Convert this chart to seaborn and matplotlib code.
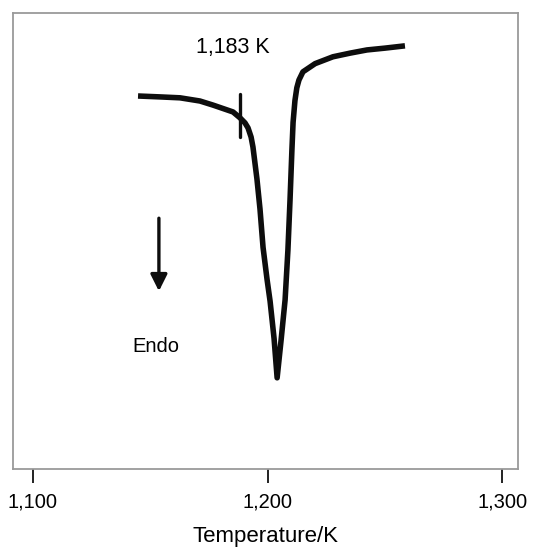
import matplotlib
matplotlib.use("Agg")
import matplotlib.pyplot as plt
import seaborn as sns
import pandas as pd

# DSC trace (temperature in K, signal in arbitrary units)
temperature = [1144.8, 1154.2, 1162.7, 1171.2, 1176.8, 1181.9, 1185.3, 1188.3,
               1190.4, 1191.7, 1193.0, 1193.8, 1195.5, 1196.8, 1198.1, 1199.8,
               1201.1, 1202.8, 1204.1, 1205.8, 1207.5, 1208.7, 1209.6, 1210.4,
               1210.9, 1211.7, 1212.5, 1213.4, 1215.1, 1220.3, 1227.9, 1235.2,
               1242.4, 1250.1, 1258.6]
signal = [81.8, 81.6, 81.4, 80.7, 79.8, 78.9, 78.3, 77.0,
          75.9, 74.8, 72.8, 70.6, 63.6, 57.0, 48.6, 41.6,
          36.8, 28.6, 20.0, 28.3, 37.1, 48.0, 59.0, 69.9,
          76.0, 80.8, 83.6, 85.3, 87.1, 88.9, 90.4, 91.2,
          91.9, 92.3, 92.8]

onset_T = 1188.3
onset_span = [72.8, 82.2]
onset_label = "1,183 K"

tick_values = [1100, 1200, 1300]
tick_labels = ["1,100", "1,200", "1,300"]

df = pd.DataFrame({"T": temperature, "signal": signal})

sns.set_style("white")
plt.rcParams["font.family"] = ["Liberation Sans", "DejaVu Sans"]
plt.rcParams["text.color"] = "black"
plt.rcParams["xtick.color"] = "black"
plt.rcParams["axes.labelcolor"] = "black"

fig = plt.figure(figsize=(5.33, 5.51), dpi=100)
ax = fig.add_axes([0.0244, 0.1488, 0.9475, 0.8276])

sns.lineplot(data=df, x="T", y="signal", ax=ax, color="#0d0d0d",
             linewidth=4.0, sort=False, solid_capstyle="butt",
             solid_joinstyle="round")

# onset marker
ax.plot([onset_T, onset_T], onset_span, color="#0d0d0d", linewidth=2.4)
ax.text(1185.3, 92.5, onset_label, ha="center", va="center", fontsize=15.5)

# endotherm direction
ax.annotate("", xy=(1153.7, 39.0), xytext=(1153.7, 55.0),
            arrowprops=dict(arrowstyle="-|>,head_length=1.0,head_width=0.5",
                            color="#0d0d0d", lw=2.4, shrinkA=0, shrinkB=0))
ax.text(1152.5, 26.8, "Endo", ha="center", va="center", fontsize=14.5)

ax.set_xlim(1091.5, 1306.8)
ax.set_ylim(0, 100)
ax.set_xticks(tick_values)
ax.set_xticklabels(tick_labels, fontsize=14.5)
ax.set_yticks([])
ax.set_xlabel("Temperature/K", fontsize=16, labelpad=10)
ax.set_ylabel("")
ax.tick_params(axis="x", direction="out", length=10, width=1.4,
               color="#222222", pad=7, bottom=True)
for s in ax.spines.values():
    s.set_color("#9a9a9a")
    s.set_linewidth(1.3)

fig.savefig("out.png", dpi=100)
